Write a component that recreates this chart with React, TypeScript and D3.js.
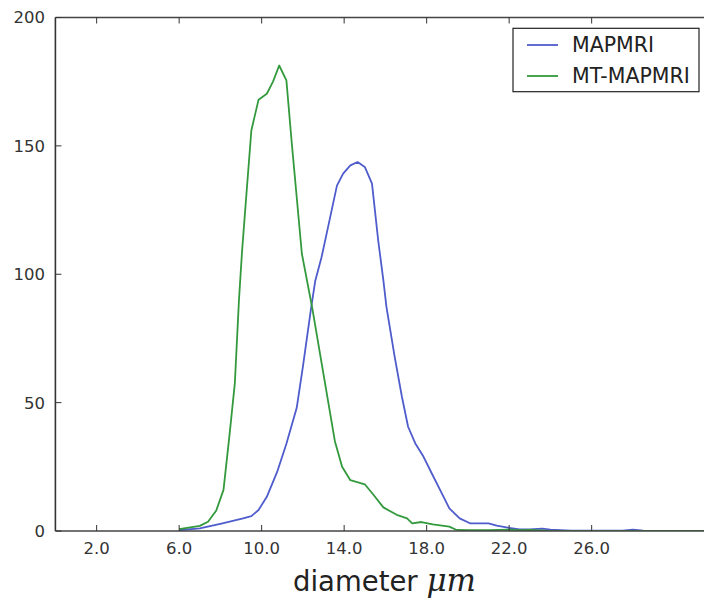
import React from "react";
import * as d3 from "d3";

// MAPMRI series (diameter µm, count)
const mapmriX = [6.0, 7.0, 8.1, 9.1, 9.5, 9.85, 10.25, 10.75, 11.2, 11.7, 12.0, 12.4, 12.6, 12.9, 13.25, 13.65, 13.95, 14.3, 14.65, 15.0, 15.35, 15.65, 15.9, 16.05, 16.45, 16.8, 17.1, 17.45, 17.85, 18.25, 18.65, 19.1, 19.6, 20.1, 21.0, 21.4, 22.0, 22.5, 23.0, 23.6, 24.0, 24.5, 25.0, 27.5, 28.0, 28.5, 31.5];
const mapmriY = [0.3, 1.0, 3.0, 4.9, 5.8, 8.2, 13.3, 23.0, 34.0, 48.0, 64.0, 87.0, 97.5, 106.5, 119.5, 134.5, 139.2, 142.4, 143.7, 141.8, 135.3, 113.2, 97.7, 87.3, 67.8, 52.3, 40.6, 34.1, 28.9, 22.4, 16.0, 8.8, 4.9, 3.0, 3.0, 2.1, 1.2, 0.6, 0.6, 0.9, 0.5, 0.3, 0.1, 0.1, 0.5, 0.1, 0.0];

// MT-MAPMRI series
const mtX = [6.0, 7.0, 7.4, 7.8, 8.15, 8.45, 8.7, 8.9, 9.05, 9.25, 9.5, 9.85, 10.25, 10.55, 10.85, 11.2, 11.45, 11.95, 12.45, 13.0, 13.55, 13.9, 14.3, 15.0, 15.4, 15.9, 16.55, 17.05, 17.3, 17.75, 18.3, 19.1, 19.45, 20.0, 21.0, 22.0, 22.5, 23.0, 24.0, 31.5];
const mtY = [0.7, 2.0, 3.6, 8.0, 16.0, 38.0, 57.6, 90.0, 109.0, 130.0, 156.0, 168.0, 170.3, 175.0, 181.3, 175.5, 152.0, 108.0, 87.0, 61.0, 35.0, 25.0, 19.8, 18.2, 14.3, 9.2, 6.3, 4.9, 3.0, 3.5, 2.6, 1.7, 0.4, 0.3, 0.3, 0.5, 0.3, 0.4, 0.0, 0.0];

const xTicks = [2, 6, 10, 14, 18, 22, 26];
const yTicks = [0, 50, 100, 150, 200];
const seriesNames = ["MAPMRI", "MT-MAPMRI"];
const seriesColors = ["#4f5ccc", "#33993d"];

export default function App() {
  const x = d3.scaleLinear().domain([0, 31.5]).range([55.4, 705.1]);
  const y = d3.scaleLinear().domain([0, 200]).range([531, 17.5]);
  const line = d3
    .line<[number, number]>()
    .x((d) => x(d[0]))
    .y((d) => y(d[1]));
  const s1 = mapmriX.map((v, i) => [v, mapmriY[i]] as [number, number]);
  const s2 = mtX.map((v, i) => [v, mtY[i]] as [number, number]);
  const font = "'DejaVu Sans', sans-serif";
  const left = x.range()[0];
  const right = 704;
  const top = y(200);
  const bottom = y(0);
  return (
    <svg
      width={704}
      height={600}
      style={{ position: "absolute", left: 0, top: 0, background: "#fff" }}
    >
      <defs>
        <clipPath id="plot">
          <rect x={left} y={top} width={right - left} height={bottom - top} />
        </clipPath>
      </defs>
      <g clipPath="url(#plot)" fill="none" strokeWidth={1.8} strokeLinejoin="round">
        <path d={line(s1) || ""} stroke={seriesColors[0]} />
        <path d={line(s2) || ""} stroke={seriesColors[1]} />
      </g>
      {/* spines */}
      <line x1={left} x2={left} y1={top} y2={bottom} stroke="#333" strokeWidth={1.6} />
      <line x1={left} x2={right} y1={bottom} y2={bottom} stroke="#444" strokeWidth={1.6} />
      <line x1={left} x2={right} y1={top} y2={top} stroke="#444" strokeWidth={1.5} />
      {/* x ticks */}
      {xTicks.map((t) => (
        <g key={"x" + t}>
          <line x1={x(t)} x2={x(t)} y1={bottom} y2={bottom - 6} stroke="#333" strokeWidth={1} />
          <line x1={x(t)} x2={x(t)} y1={top} y2={top + 6} stroke="#333" strokeWidth={1} />
          <text
            x={x(t)}
            y={554}
            textAnchor="middle"
            fontFamily={font}
            fontSize={16.5}
            fill="#333"
          >
            {t.toFixed(1)}
          </text>
        </g>
      ))}
      {/* y ticks */}
      {yTicks.map((t) => (
        <g key={"y" + t}>
          <line x1={left} x2={left + 6} y1={y(t)} y2={y(t)} stroke="#333" strokeWidth={1} />
          <text
            x={45}
            y={y(t)}
            dy="0.36em"
            textAnchor="end"
            fontFamily={font}
            fontSize={16.5}
            fill="#333"
          >
            {t}
          </text>
        </g>
      ))}
      {/* x label */}
      <text x={293} y={591} fontFamily={font} fontSize={27.5} fill="#222">
        diameter{" "}
        <tspan fontFamily="'DejaVu Serif', serif" fontStyle="italic" fontSize={31}>
          μm
        </tspan>
      </text>
      {/* legend */}
      <rect x={513} y={28.3} width={186} height={63.4} fill="#fff" stroke="#222" strokeWidth={1.2} />
      {seriesNames.map((n, i) => (
        <g key={n}>
          <line
            x1={527}
            x2={558}
            y1={45 + i * 31}
            y2={45 + i * 31}
            stroke={seriesColors[i]}
            strokeWidth={1.8}
          />
          <text x={572} y={52 + i * 31} fontFamily={font} fontSize={20.5} fill="#222">
            {n}
          </text>
        </g>
      ))}
    </svg>
  );
}
